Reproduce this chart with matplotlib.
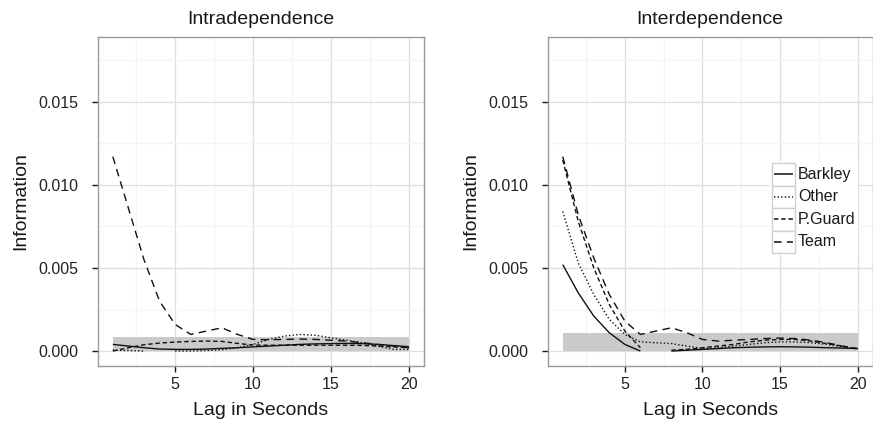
import numpy as np
import matplotlib
matplotlib.use("Agg")
import matplotlib.pyplot as plt
from matplotlib.patches import Rectangle
from matplotlib.lines import Line2D
from matplotlib.ticker import MultipleLocator, FormatStrFormatter

plt.rcParams['font.family'] = ['Liberation Sans', 'DejaVu Sans']
plt.rcParams['lines.scale_dashes'] = False

nan = np.nan
lags = list(range(1, 21))
series_names = ["Barkley", "Other", "P.Guard", "Team"]
panel_titles = ["Intradependence", "Interdependence"]

# Intradependence
intra_barkley = [0.0004, 0.0003, 0.0002, 0.00012, 0.0001, 0.0001, 0.00012, 0.00016, 0.0002, 0.00025,
                 0.0003, 0.00035, 0.0004, 0.00043, 0.00045, 0.00046, 0.00045, 0.0004, 0.00033, 0.00026]
intra_other = [0.00006, 0.00003, 0.0, nan, 0.0, 0.0, 0.00003, 0.00008, 0.0002, 0.0004,
               0.0007, 0.0009, 0.001, 0.00095, 0.0008, 0.00065, 0.0005, 0.0003, 0.0001, 0.0001]
intra_pguard = [0.0, 0.0002, 0.00038, 0.00048, 0.00054, 0.00058, 0.0006, 0.00058, 0.00046, 0.00036,
                0.00035, 0.00035, 0.00035, 0.00035, 0.00035, 0.00035, 0.00034, 0.0003, 0.00025, 0.0002]
intra_team = [0.0117, 0.0086, 0.0055, 0.0030, 0.0016, 0.0010, 0.0012, 0.0014, 0.0010, 0.0007,
              0.00068, 0.0007, 0.00072, 0.0007, 0.00065, 0.0006, 0.0005, 0.0004, 0.0003, 0.0002]

# Interdependence
inter_barkley = [0.0052, 0.0035, 0.0021, 0.0011, 0.0004, 0.0, nan, 0.0, 0.00005, 0.0001,
                 0.00015, 0.0002, 0.00023, 0.00025, 0.00026, 0.00025, 0.00023, 0.0002, 0.00018, 0.00015]
inter_other = [0.0084, 0.0053, 0.0034, 0.0019, 0.0010, 0.00055, 0.0005, 0.00045, 0.0003, 0.00015,
               0.0002, 0.0003, 0.0004, 0.0005, 0.00055, 0.00055, 0.0005, 0.0004, 0.00025, 0.00013]
inter_pguard = [0.0115, 0.0078, 0.0050, 0.0028, 0.0012, 0.0002, nan, 0.00005, 0.0001, 0.0002,
                0.0003, 0.0004, 0.00055, 0.00065, 0.0007, 0.0007, 0.0006, 0.00045, 0.0003, 0.00012]
inter_team = [0.0117, 0.0082, 0.0056, 0.0034, 0.0018, 0.0010, 0.0012, 0.0014, 0.0011, 0.0007,
              0.0006, 0.00065, 0.0007, 0.00075, 0.00078, 0.00075, 0.00065, 0.0005, 0.0003, 0.00015]

# Grey significance band (x extent and upper bound)
band_x = [1, 20]
intra_band_top = 0.00085
inter_band_top = 0.0011

panels = [
    ([intra_barkley, intra_other, intra_pguard, intra_team], intra_band_top),
    ([inter_barkley, inter_other, inter_pguard, inter_team], inter_band_top),
]

styles = {
    "Barkley": "solid",
    "Other": (0, (1.0, 1.6)),
    "P.Guard": (0, (3.2, 2.0)),
    "Team": (0, (5.5, 3.8)),
}

fig = plt.figure(figsize=(8.73, 4.29), dpi=100)
W, H = 873, 429
ax_rects = [
    (98 / W, (H - 366) / H, 325.7 / W, 329 / H),
    (548 / W, (H - 366) / H, 324.5 / W, 329 / H),
]

line_color = "#111111"
for i, (series, band_top) in enumerate(panels):
    ax = fig.add_axes(ax_rects[i])
    ax.set_xlim(0.05, 20.95)
    ax.set_ylim(-0.0009, 0.0189)
    ax.xaxis.set_major_locator(MultipleLocator(5))
    ax.xaxis.set_minor_locator(MultipleLocator(2.5))
    ax.yaxis.set_major_locator(MultipleLocator(0.005))
    ax.yaxis.set_minor_locator(MultipleLocator(0.0025))
    ax.yaxis.set_major_formatter(FormatStrFormatter('%.3f'))
    ax.set_xticks([5, 10, 15, 20])
    ax.grid(which='major', color='#dedede', lw=0.9, zorder=0)
    ax.grid(which='minor', color='#f4f4f4', lw=0.9, zorder=0)
    ax.set_axisbelow(True)
    ax.tick_params(which='minor', length=0)
    ax.tick_params(which='major', length=4, width=1.0, color='#1a1a1a',
                   labelsize=11.5, labelcolor='#222222')
    ax.tick_params(axis='x', pad=4)
    ax.tick_params(axis='y', pad=10)
    for sp in ax.spines.values():
        sp.set_color('#9a9a9a')
        sp.set_linewidth(1.0)
    ax.fill_between(band_x, 0, band_top, color='#c9cac9', lw=0, zorder=1)
    for name, vals in zip(series_names, series):
        ax.plot(lags, vals, color=line_color, lw=1.0, linestyle=styles[name],
                zorder=3, solid_capstyle='butt', dash_capstyle='butt')
    ax.set_title(panel_titles[i], fontsize=14, pad=9, color='#1a1a1a')
    ax.set_xlabel("Lag in Seconds", fontsize=14, labelpad=7, color='#1a1a1a')
    ax.set_ylabel("Information", fontsize=14, labelpad=7, color='#1a1a1a')

    if i == 1:
        # legend, ggplot style with key boxes
        x0 = (772 - 548) / 324.5
        kw = 23 / 324.5
        kh = 22.5 / 329
        ytop = (366 - 163) / 329
        ax.add_patch(Rectangle((x0 - 2 / 324.5, ytop - 4 * kh - 2 / 329), 88 / 324.5, 4 * kh + 4 / 329,
                               transform=ax.transAxes, facecolor='white', edgecolor='none', zorder=4))
        for k, name in enumerate(series_names):
            yb = ytop - (k + 1) * kh
            ax.add_patch(Rectangle((x0, yb), kw, kh, transform=ax.transAxes,
                                   facecolor='white', edgecolor='#d0d0d0', lw=1.0, zorder=5))
            ax.add_line(Line2D([x0 + 0.1 * kw, x0 + 0.9 * kw], [yb + kh / 2, yb + kh / 2],
                               transform=ax.transAxes, color=line_color, lw=1.1,
                               linestyle=styles[name], zorder=6,
                               solid_capstyle='butt', dash_capstyle='butt'))
            ax.text(x0 + kw + 3 / 324.5, yb + kh / 2, name, transform=ax.transAxes,
                    fontsize=11.5, va='center', ha='left', color='#1a1a1a', zorder=6)

fig.savefig("out.png", dpi=100)
